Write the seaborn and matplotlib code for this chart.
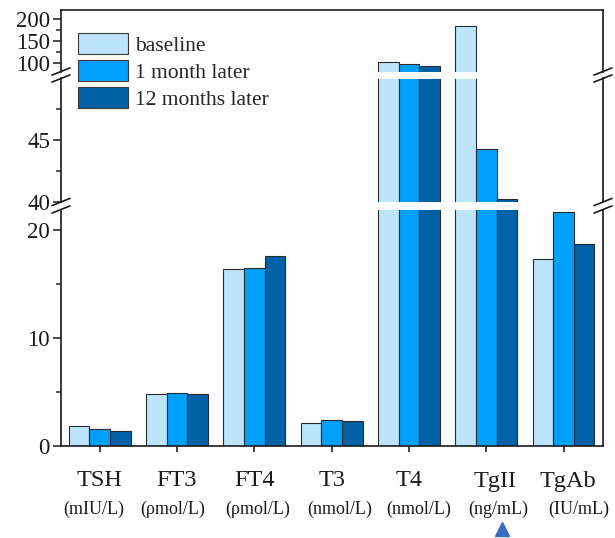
import numpy as np
import pandas as pd
import matplotlib
matplotlib.use("Agg")
import matplotlib.pyplot as plt
import matplotlib.transforms as mtransforms
from matplotlib.lines import Line2D
from matplotlib.patches import Patch
import seaborn as sns

# ---- data ----
categories = ["TSH", "FT3", "FT4", "T3", "T4", "TgII", "TgAb"]
units = ["(mIU/L)", "(ρmol/L)", "(ρmol/L)", "(nmol/L)", "(nmol/L)", "(ng/mL)", "(IU/mL)"]
periods = ["baseline", "1 month later", "12 months later"]
baseline = [1.85, 4.85, 16.35, 2.15, 104, 184, 17.3]
month1 = [1.6, 4.95, 16.5, 2.4, 98, 44.3, 21.7]
month12 = [1.4, 4.82, 17.6, 2.35, 95, 40.25, 18.75]
colors = ["#BDE5FA", "#00A0FF", "#0062A6"]

# ---- layout constants ----
W, H = 615, 538
name_dx = [0, 0, 0, 0, 0, 0.11, 0.05]
unit_dx = [-0.08, -0.06, 0.05, 0.1, 0.13, 0.15, 0.2]

sns.set_theme(style="ticks")
plt.rcParams["font.family"] = ["Liberation Serif", "DejaVu Serif"]
plt.rcParams["axes.edgecolor"] = "#1a1a1a"

df = pd.DataFrame({
    "category": categories * 3,
    "period": np.repeat(periods, len(categories)),
    "value": baseline + month1 + month12,
})

fig = plt.figure(figsize=(W / 100, H / 100), dpi=100)


def fx(px):
    return px / W


def fy(py):
    return 1 - py / H


x0, x1 = 61, 603
segs = [  # (top px, bottom px, ylim, majors, minors)
    (10, 71.5, (82, 220), [100, 150, 200], [125, 175]),
    (78.5, 202, (40, 50), [40, 45], [42.5, 47.5]),
    (209.5, 446, (0, 21.9), [0, 10, 20], [5, 15]),
]
axes = []
for i, (t, b, yl, maj, mnr) in enumerate(segs):
    ax = fig.add_axes([fx(x0), fy(b), fx(x1 - x0), (b - t) / H])
    sns.barplot(data=df, x="category", y="value", hue="period", palette=colors,
                edgecolor="#2a2a2a", linewidth=0.8, width=0.8, gap=0,
                saturation=1, errorbar=None, legend=False, ax=ax)
    ax.set_ylim(*yl)
    ax.set_xlim(-0.5, 6.51)
    ax.set_yticks(maj)
    ax.set_yticks(mnr, minor=True)
    ax.set_xlabel("")
    ax.set_ylabel("")
    ax.tick_params(axis="y", which="major", length=6, width=1.1, direction="out",
                   labelsize=16.5, pad=2, colors="#1a1a1a")
    ax.tick_params(axis="y", which="minor", length=3.5, width=1.1, direction="out")
    for s in ax.spines.values():
        s.set_linewidth(1.2)
    if i == 2:
        ax.tick_params(axis="x", length=4, width=1.2, direction="out", labelbottom=False)
        ax.spines["top"].set_visible(False)
    else:
        ax.tick_params(axis="x", bottom=False, labelbottom=False)
        ax.spines["bottom"].set_visible(False)
        if i == 1:
            ax.spines["top"].set_visible(False)
    axes.append(ax)

ax_b = axes[2]
# category names and units
for k, (c, u) in enumerate(zip(categories, units)):
    ax_b.text(k + name_dx[k], (446 - 486.5) / 236.5, c, transform=ax_b.get_xaxis_transform(),
              ha="center", va="baseline", fontsize=17.5, color="#1a1a1a")
    ax_b.text(k + unit_dx[k], (446 - 513.5) / 236.5, u, transform=ax_b.get_xaxis_transform(),
              ha="center", va="baseline", fontsize=13, color="#1a1a1a")

# marker triangle under TgII unit
trans = mtransforms.blended_transform_factory(ax_b.transData, fig.transFigure)
ax_b.plot([5.21], [fy(529)], marker="^", markersize=10, color="#3A6CC6",
          transform=trans, clip_on=False, linestyle="none")

# axis break marks
for gt, gb in [(71.5, 78.5), (202, 209.5)]:
    for xs in (x0, x1):
        for yy in (gt, gb):
            fig.add_artist(Line2D([fx(xs - 9), fx(xs + 9)], [fy(yy + 3.6), fy(yy - 3.6)],
                                  color="#1a1a1a", lw=1.2, transform=fig.transFigure))

# legend
handles = [Patch(facecolor=c, edgecolor="#3a3a3a", linewidth=0.8, label=p)
           for c, p in zip(colors, periods)]
fig.legend(handles=handles, loc="upper left", bbox_to_anchor=(fx(78), fy(33)),
           frameon=False, fontsize=15.5, borderpad=0, borderaxespad=0,
           handlelength=2.3, handleheight=1.1, handletextpad=0.35, labelspacing=0.2)

fig.savefig("out.png", dpi=100)
